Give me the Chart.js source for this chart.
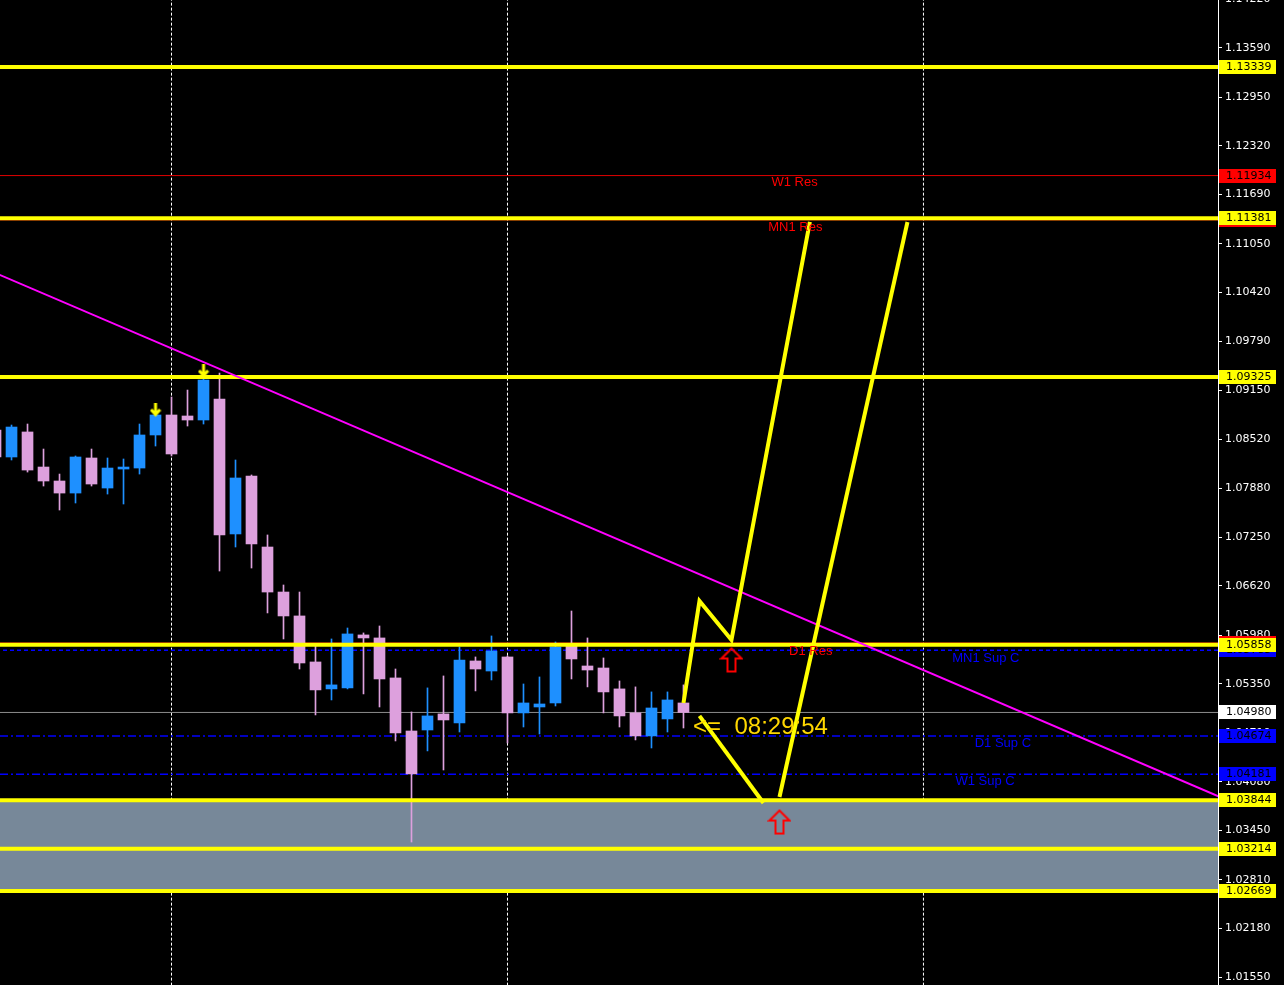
<!DOCTYPE html>
<html>
<head>
<meta charset="utf-8">
<script src="https://cdn.jsdelivr.net/npm/chart.js@4.4.1/dist/chart.umd.min.js"></script>
<style>
  html, body { margin: 0; padding: 0; background: #000; }
  #wrap { width: 1284px; height: 985px; }
</style>
</head>
<body>
<div id="wrap"><canvas id="chart"></canvas></div>
<script>
// bar index -1 is the partly hidden candle on the left edge
const opens = [1.08638, 1.08289, 1.08613, 1.08159, 1.07978, 1.07822, 1.08276, 1.07887, 1.08133, 1.08146,
  1.08574, 1.08833, 1.08820, 1.08768, 1.09040, 1.07292, 1.08043, 1.07123, 1.06540, 1.06230,
  1.05634, 1.05285, 1.05298, 1.05984, 1.05945, 1.05427, 1.04740, 1.04753, 1.04961, 1.04844,
  1.05647, 1.05517, 1.05699, 1.04974, 1.05051, 1.05103, 1.05854, 1.05582, 1.05556, 1.05285,
  1.04974, 1.04676, 1.04896, 1.05103];
const highs = [1.08690, 1.08703, 1.08716, 1.08392, 1.08068, 1.08302, 1.08392, 1.08276, 1.08263, 1.08716,
  1.08846, 1.09066, 1.09156, 1.09376, 1.09376, 1.08250, 1.08056, 1.07279, 1.06631, 1.06540,
  1.05854, 1.05932, 1.06074, 1.06010, 1.06100, 1.05543, 1.04987, 1.05298, 1.05453, 1.05828,
  1.05699, 1.05971, 1.05712, 1.05349, 1.05440, 1.05893, 1.06294, 1.05945, 1.05686, 1.05388,
  1.05311, 1.05246, 1.05246, 1.05337];
const lows = [1.08250, 1.08250, 1.08094, 1.07913, 1.07602, 1.07693, 1.07913, 1.07809, 1.07680, 1.08068,
  1.08431, 1.08302, 1.08690, 1.08716, 1.06812, 1.07123, 1.06851, 1.06269, 1.05932, 1.05543,
  1.04948, 1.05142, 1.05285, 1.05220, 1.05051, 1.04611, 1.03302, 1.04482, 1.04235, 1.04727,
  1.05259, 1.05401, 1.04585, 1.04792, 1.04701, 1.05064, 1.05414, 1.05311, 1.04974, 1.04792,
  1.04624, 1.04520, 1.04727, 1.04779];
const closes = [1.08289, 1.08677, 1.08120, 1.07978, 1.07822, 1.08289, 1.07939, 1.08146, 1.08159, 1.08574,
  1.08833, 1.08328, 1.08768, 1.09286, 1.07279, 1.08017, 1.07162, 1.06540, 1.06230, 1.05621,
  1.05272, 1.05337, 1.05997, 1.05945, 1.05414, 1.04715, 1.04184, 1.04935, 1.04883, 1.05660,
  1.05543, 1.05776, 1.04974, 1.05103, 1.05090, 1.05828, 1.05673, 1.05530, 1.05246, 1.04935,
  1.04676, 1.05038, 1.05142, 1.04980];
const firstBar = -1;

const yTicks = [1.14220, 1.13590, 1.12950, 1.12320, 1.11690, 1.11050, 1.10420, 1.09790, 1.09150, 1.08520,
  1.07880, 1.07250, 1.06620, 1.05980, 1.05350, 1.04710, 1.04080, 1.03450, 1.02810, 1.02180, 1.01550];

const yellowLevels = [1.13339, 1.11381, 1.09325, 1.05858, 1.03844, 1.03214, 1.02669];
const zoneTop = 1.03844;
const zoneBottom = 1.02669;
const resLevels = [1.11934, 1.11359, 1.05880];          // W1 Res, MN1 Res, D1 Res
const supLevels = [1.05785, 1.04674, 1.04181];          // MN1 Sup C, D1 Sup C, W1 Sup C
const bidPrice = 1.04980;
const separators = [10, 31, 57];

const trendX = [-1, 76];
const trendY = [1.10671, 1.03845];
const zigzagA = [[42, 1.05103], [43, 1.06424], [45, 1.05919], [49.9, 1.11333]];
const zigzagB = [[43, 1.04935], [47, 1.03807]];
const zigzagC = [[48, 1.03885], [56, 1.11333]];

const fractalBars = [9, 12];
const fractalPrices = [1.08897, 1.09402];
const signalBars = [45, 48];
const signalPrices = [1.05660, 1.03561];

const levelLabels = [
  { text: 'W1 Res', x: 47.5, y: 1.11851, color: '#ff0000' },
  { text: 'MN1 Res', x: 47.3, y: 1.11268, color: '#ff0000' },
  { text: 'D1 Res', x: 48.6, y: 1.05776, color: '#ff0000' },
  { text: 'MN1 Sup C', x: 58.8, y: 1.05686, color: '#0000ff' },
  { text: 'D1 Sup C', x: 60.2, y: 1.04585, color: '#0000ff' },
  { text: 'W1 Sup C', x: 59.0, y: 1.04093, color: '#0000ff' }
];
const timerText = '<=  08:29:54';
const timerAt = { x: 42.6, y: 1.04792 };

const priceTags = [
  { price: 1.11359, bg: '#ff0000' },
  { price: 1.05880, bg: '#ff0000' },
  { price: 1.05785, bg: '#0000ff' },
  { price: 1.11934, bg: '#ff0000' },
  { price: 1.04674, bg: '#0000ff' },
  { price: 1.04181, bg: '#0000ff' },
  ...yellowLevels.map((p) => ({ price: p, bg: '#ffff00' })),
  { price: bidPrice, bg: '#ffffff' }
];

const X_MIN = -0.72;
const X_MAX = 75.41;
const Y_MIN = 1.0145;
const Y_MAX = 1.14208;

const BULL = '#1e90ff';
const BEAR = '#dda0dd';

function makeSignalArrow() {
  const c = document.createElement('canvas');
  c.width = 24; c.height = 27;
  const g = c.getContext('2d');
  g.strokeStyle = '#ff0000';
  g.lineWidth = 2;
  g.beginPath();
  g.moveTo(12, 2); g.lineTo(22, 12); g.lineTo(16, 12); g.lineTo(16, 25);
  g.lineTo(8, 25); g.lineTo(8, 12); g.lineTo(2, 12); g.closePath();
  g.stroke();
  return c;
}

function makeFractalArrow() {
  const c = document.createElement('canvas');
  c.width = 12; c.height = 15;
  const g = c.getContext('2d');
  g.strokeStyle = '#ffff00';
  g.lineWidth = 3;
  g.beginPath();
  g.moveTo(6, 0); g.lineTo(6, 12);
  g.moveTo(1.5, 7); g.lineTo(6, 12); g.lineTo(10.5, 7);
  g.stroke();
  return c;
}

const bars = opens.map((_, i) => i + firstBar);
const candleColors = opens.map((o, i) => (closes[i] >= o ? BULL : BEAR));

const flatLine = (price) => [{ x: X_MIN - 2, y: price }, { x: X_MAX + 2, y: price }];

const datasets = [];

separators.forEach((s) => {
  datasets.push({
    type: 'line',
    data: [{ x: s, y: Y_MIN - 1 }, { x: s, y: Y_MAX + 1 }],
    borderColor: '#ffffff',
    borderWidth: 1,
    borderDash: [3, 2],
    pointRadius: 0,
    clip: 0,
    order: 9
  });
});

datasets.push({
  type: 'line',
  data: flatLine(zoneTop),
  borderWidth: 0,
  pointRadius: 0,
  fill: '+1',
  backgroundColor: '#778899',
  clip: 0,
  order: 8
});
datasets.push({
  type: 'line',
  data: flatLine(zoneBottom),
  borderWidth: 0,
  pointRadius: 0,
  fill: false,
  clip: 0,
  order: 8
});

resLevels.forEach((p) => {
  datasets.push({
    type: 'line', data: flatLine(p), borderColor: '#e00000', borderWidth: 1,
    pointRadius: 0, clip: 0, order: 7
  });
});
supLevels.forEach((p, i) => {
  datasets.push({
    type: 'line', data: flatLine(p), borderColor: '#0000ff', borderWidth: 1.5,
    borderDash: i === 0 ? [4, 3] : [8, 3, 2, 3],
    pointRadius: 0, clip: 0, order: 7
  });
});
datasets.push({
  type: 'line', data: flatLine(bidPrice), borderColor: '#8c8c8c', borderWidth: 1,
  pointRadius: 0, clip: 0, order: 7
});

datasets.push({
  type: 'bar',
  data: bars.map((x, i) => ({ x, y: [lows[i], highs[i]] })),
  backgroundColor: candleColors,
  barThickness: 1,
  grouped: false,
  order: 6
});
datasets.push({
  type: 'bar',
  data: bars.map((x, i) => ({ x, y: [opens[i], closes[i]] })),
  backgroundColor: candleColors,
  barThickness: 11,
  grouped: false,
  order: 5
});

yellowLevels.forEach((p) => {
  datasets.push({
    type: 'line', data: flatLine(p), borderColor: '#ffff00', borderWidth: 4,
    pointRadius: 0, clip: 0, order: 4
  });
});

datasets.push({
  type: 'line',
  data: trendX.map((x, i) => ({ x, y: trendY[i] })),
  borderColor: '#ff00ff',
  borderWidth: 2,
  pointRadius: 0,
  clip: 0,
  order: 3
});

[zigzagA, zigzagB, zigzagC].forEach((path) => {
  datasets.push({
    type: 'line',
    data: path.map(([x, y]) => ({ x, y })),
    borderColor: '#ffff00',
    borderWidth: 4,
    pointRadius: 0,
    clip: 0,
    order: 2
  });
});

datasets.push({
  type: 'line',
  data: fractalBars.map((x, i) => ({ x, y: fractalPrices[i] })),
  showLine: false,
  pointStyle: makeFractalArrow(),
  pointRadius: 8,
  order: 1
});
datasets.push({
  type: 'line',
  data: signalBars.map((x, i) => ({ x, y: signalPrices[i] })),
  showLine: false,
  pointStyle: makeSignalArrow(),
  pointRadius: 12,
  order: 1
});

const overlay = {
  id: 'overlay',
  afterDatasetsDraw(chart) {
    const { ctx, chartArea, scales: { x, y } } = chart;
    ctx.save();
    ctx.beginPath();
    ctx.rect(chartArea.left, chartArea.top, chartArea.width, chartArea.height);
    ctx.clip();
    ctx.textAlign = 'left';
    ctx.textBaseline = 'middle';
    ctx.font = '13px "Liberation Sans", Arial, sans-serif';
    levelLabels.forEach((l) => {
      ctx.fillStyle = l.color;
      ctx.fillText(l.text, x.getPixelForValue(l.x), y.getPixelForValue(l.y));
    });
    ctx.font = '24px "Liberation Sans", Arial, sans-serif';
    ctx.fillStyle = '#ffd700';
    ctx.fillText(timerText, x.getPixelForValue(timerAt.x), y.getPixelForValue(timerAt.y));
    ctx.restore();
  },
  afterDraw(chart) {
    const { ctx, chartArea, scales: { y } } = chart;
    ctx.save();
    ctx.font = '11px "DejaVu Sans", sans-serif';
    ctx.textAlign = 'left';
    ctx.textBaseline = 'middle';
    priceTags.forEach((t) => {
      const py = Math.round(y.getPixelForValue(t.price));
      ctx.fillStyle = t.bg;
      ctx.fillRect(chartArea.right + 1, py - 7, 57, 14);
      ctx.fillStyle = '#000000';
      ctx.fillText(t.price.toFixed(5), chartArea.right + 8, py);
    });
    ctx.restore();
  }
};

new Chart(document.getElementById('chart'), {
  type: 'bar',
  data: { datasets },
  options: {
    animation: false,
    responsive: true,
    maintainAspectRatio: false,
    layout: { padding: 0, autoPadding: false },
    plugins: {
      legend: { display: false },
      tooltip: { enabled: false }
    },
    scales: {
      x: {
        type: 'linear',
        min: X_MIN,
        max: X_MAX,
        offset: false,
        display: false
      },
      y: {
        type: 'linear',
        position: 'right',
        min: Y_MIN,
        max: Y_MAX,
        afterBuildTicks: (scale) => {
          scale.ticks = yTicks.map((v) => ({ value: v }));
        },
        afterFit: (scale) => {
          scale.width = 66;
          scale.paddingTop = 0;
          scale.paddingBottom = 0;
        },
        border: { display: true, color: '#ffffff', width: 1 },
        grid: { drawOnChartArea: false, drawTicks: true, tickLength: 4, color: '#ffffff' },
        ticks: {
          autoSkip: false,
          padding: 3,
          color: '#ffffff',
          font: { family: '"DejaVu Sans", sans-serif', size: 11 },
          callback: (v) => Number(v).toFixed(5)
        }
      }
    }
  },
  plugins: [overlay]
});
</script>
</body>
</html>
